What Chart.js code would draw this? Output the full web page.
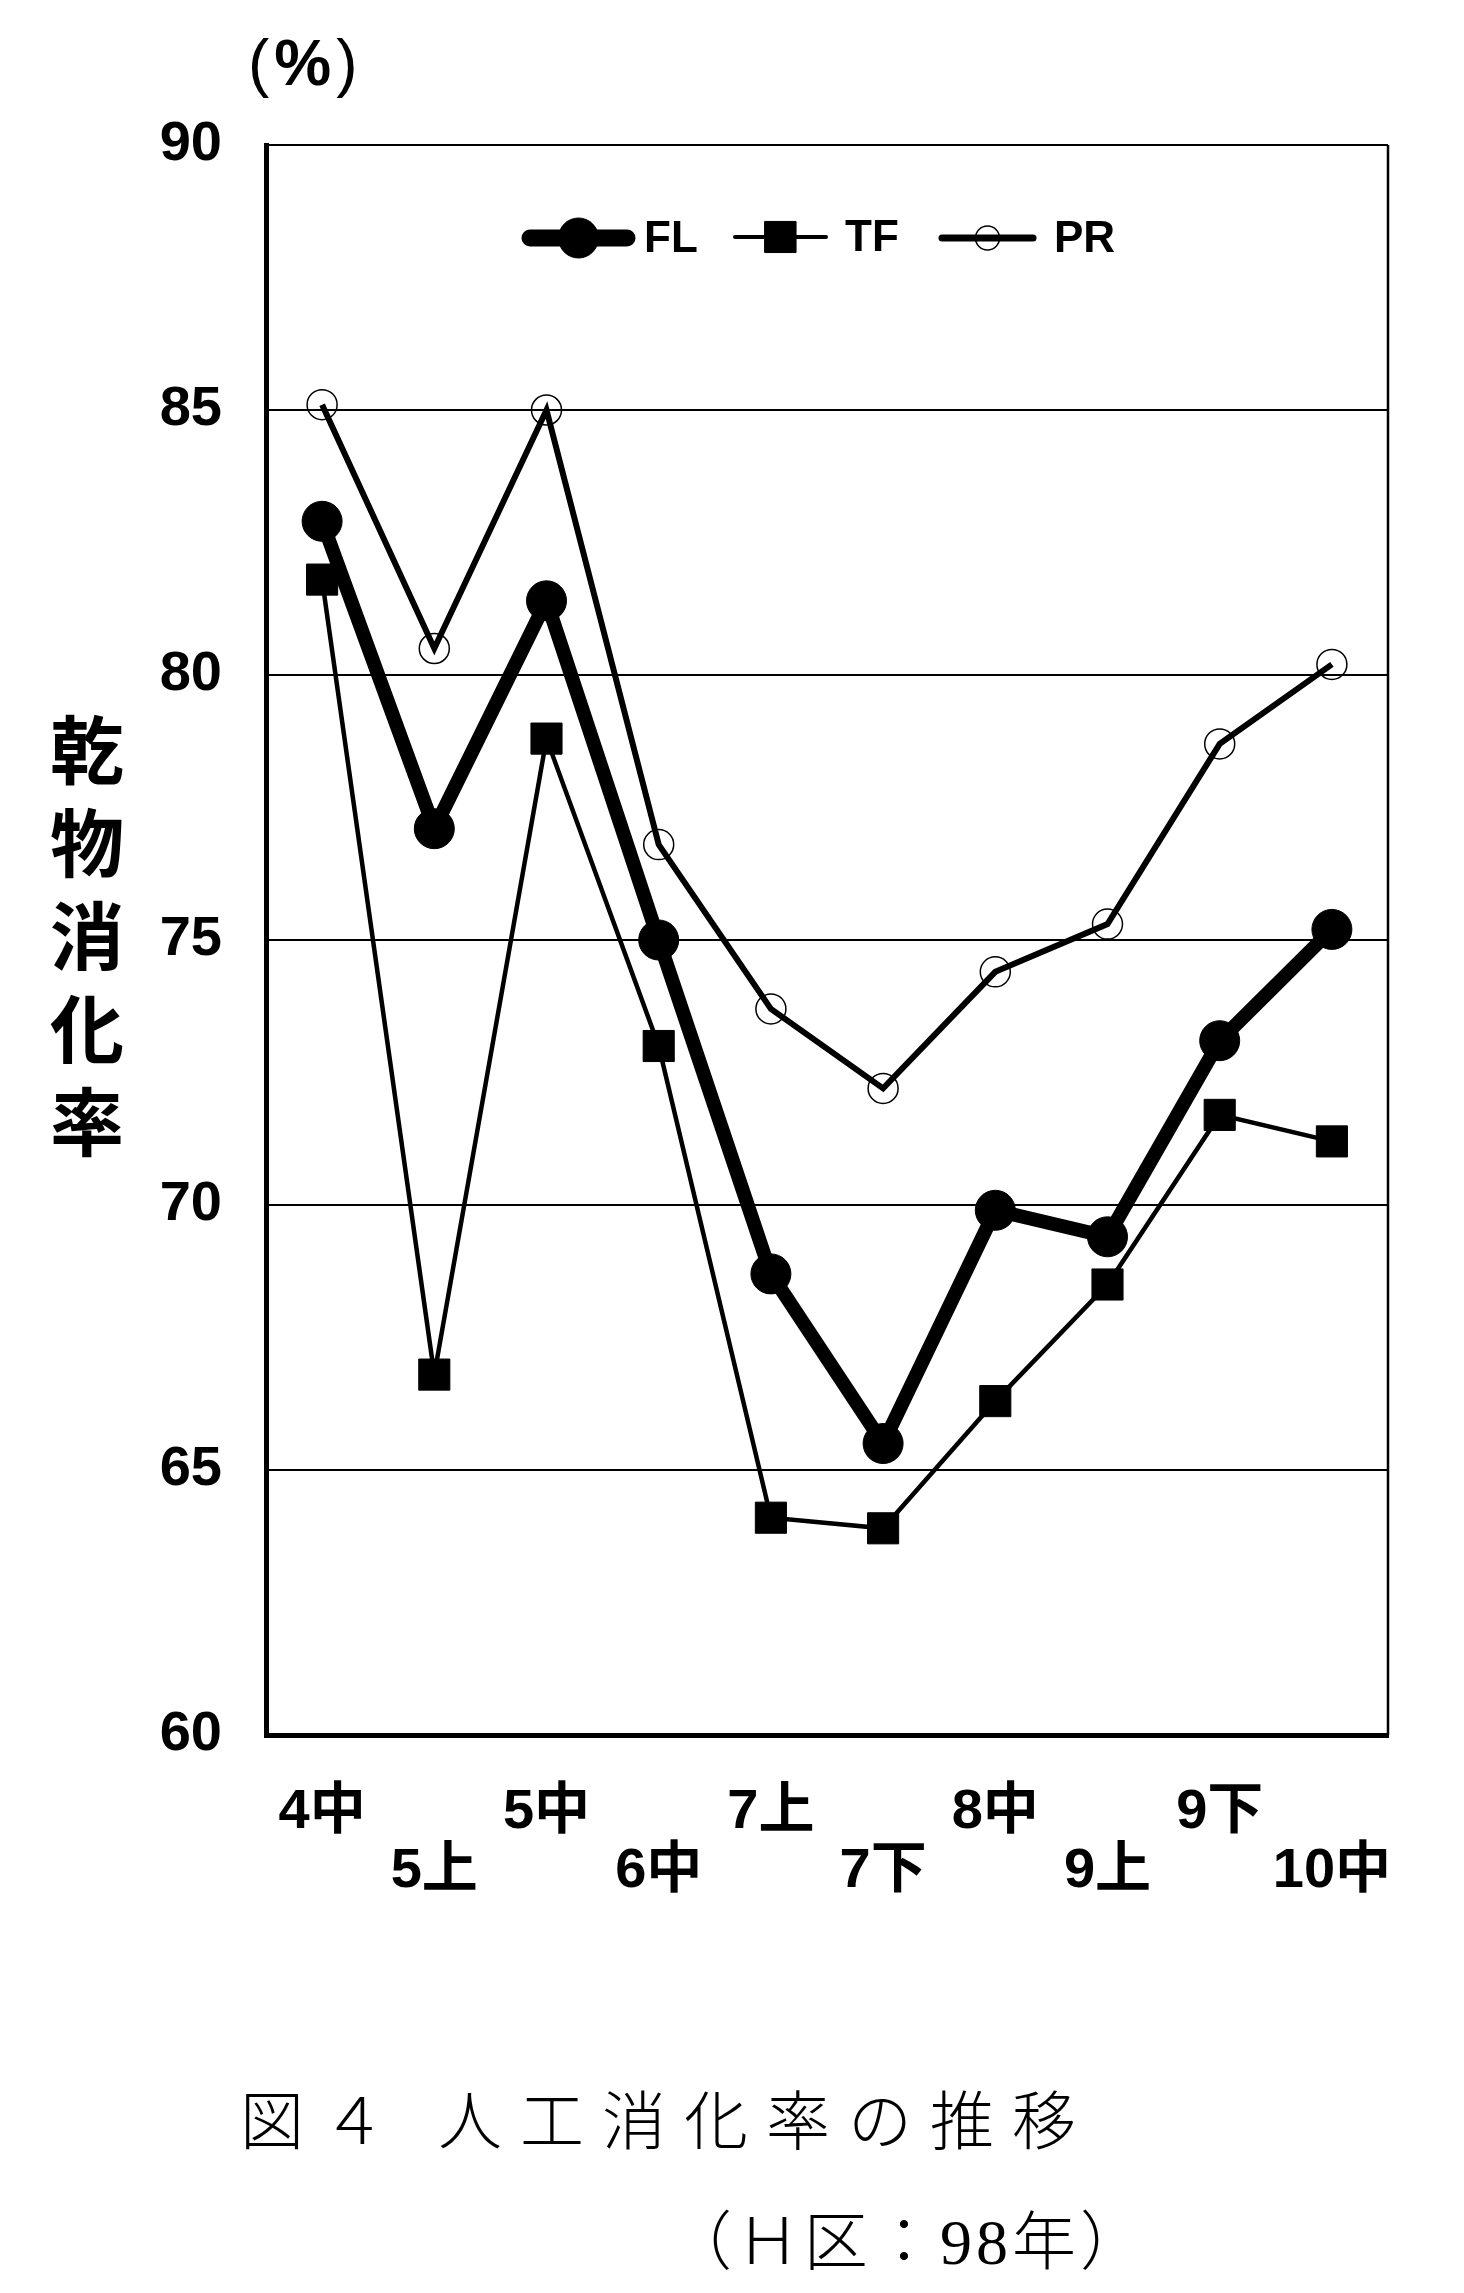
<!DOCTYPE html>
<html>
<head>
<meta charset="utf-8">
<script src="https://cdn.jsdelivr.net/npm/chart.js@4.4.1/dist/chart.umd.min.js"></script>
<style>
    body { margin: 0; background: #fff; }
    .pagina { position: relative; width: 1464px; height: 2293px; background: #fff; overflow: hidden; }
    #grafico { position: absolute; left: 0; top: 0; }
    .unidade { position: absolute; left: 248px; top: 26px; font: 64px "Liberation Sans", sans-serif; color: #000; letter-spacing: 5px; }
    .unidade b { font-weight: bold; }
    .titulo_y { position: absolute; left: 47px; top: 699px; width: 80px; font: bold 74px "Noto Sans CJK JP", sans-serif; line-height: 93px; text-align: center; color: #000; }
    .legenda1 { position: absolute; left: 240px; top: 2070px; font: 300 64px "Liberation Serif", "Noto Sans CJK JP", serif; letter-spacing: 18px; color: #000; white-space: pre; }
    .legenda2 { position: absolute; left: 668px; top: 2190px; font: 300 64px "Liberation Serif", "Noto Sans CJK JP", serif; letter-spacing: 4px; color: #000; white-space: pre; }
</style>
</head>
<body>
<div class="pagina">
    <canvas id="grafico" width="1464" height="1960"></canvas>
    <div class="unidade">(<b>%</b>)</div>
    <div class="titulo_y">乾<br>物<br>消<br>化<br>率</div>
    <div class="legenda1">図４ 人工消化率の推移</div>
    <div class="legenda2">（Ｈ区：98年）</div>
</div>
<script>
const categorias = ['4中', '5上', '5中', '6中', '7上', '7下', '8中', '9上', '9下', '10中'];
const serieFL = [82.9, 77.1, 81.4, 75.0, 68.7, 65.5, 69.9, 69.4, 73.1, 75.2];
const serieTF = [81.8, 66.8, 78.8, 73.0, 64.1, 63.9, 66.3, 68.5, 71.7, 71.2];
const seriePR = [85.1, 80.5, 85.0, 76.8, 73.7, 72.2, 74.4, 75.3, 78.7, 80.2];
const eixoY = { min: 60, max: 90, passo: 5 };

const fonteEixo = '"Liberation Sans Narrow", "Liberation Sans", "Noto Sans CJK JP", sans-serif';
const fonteLegenda = '"Liberation Sans", "Noto Sans CJK JP", sans-serif';

// rotulos alternados em duas linhas, como no original
const rotulosX = categorias.map((c, i) => i % 2 === 0 ? [c, ''] : ['', c]);

const legendaPlugin = {
    id: 'legendaDentro',
    afterDatasetsDraw(chart) {
        const ctx = chart.ctx;
        const itens = [
            { ds: 0, x0: 530, x1: 627, tx: 644, y: 238, lw: 17, r: 20 },
            { ds: 1, x0: 735, x1: 826, tx: 845, y: 237, lw: 4, r: 22 },
            { ds: 2, x0: 942, x1: 1033, tx: 1054, y: 238, lw: 7, r: 12 }
        ];
        ctx.save();
        itens.forEach(item => {
            const ds = chart.data.datasets[item.ds];
            ctx.strokeStyle = '#000';
            ctx.lineWidth = item.lw;
            ctx.lineCap = 'round';
            ctx.beginPath();
            ctx.moveTo(item.x0, item.y);
            ctx.lineTo(item.x1, item.y);
            ctx.stroke();

            const meio = (item.x0 + item.x1) / 2;
            ctx.fillStyle = ds.pointBackgroundColor;
            ctx.strokeStyle = ds.pointBorderColor;
            ctx.lineWidth = ds.pointBorderWidth;
            Chart.helpers.drawPoint(ctx, {
                pointStyle: ds.pointStyle,
                radius: item.r,
                borderWidth: ds.pointBorderWidth
            }, meio, item.y);

            ctx.fillStyle = '#000';
            ctx.font = 'bold 44px ' + fonteLegenda;
            ctx.textBaseline = 'middle';
            ctx.textAlign = 'left';
            ctx.fillText(ds.label, item.tx, item.y + 2);
        });
        ctx.restore();
    }
};

const molduraPlugin = {
    id: 'moldura',
    afterDraw(chart) {
        const a = chart.chartArea;
        const ctx = chart.ctx;
        ctx.save();
        ctx.strokeStyle = '#000';
        ctx.lineWidth = 2.5;
        ctx.beginPath();
        ctx.moveTo(a.right, a.top);
        ctx.lineTo(a.right, a.bottom);
        ctx.stroke();
        ctx.restore();
    }
};

new Chart(document.getElementById('grafico'), {
    type: 'line',
    data: {
        labels: rotulosX,
        datasets: [
            {
                label: 'FL',
                data: serieFL,
                borderColor: '#000',
                borderWidth: 14,
                borderJoinStyle: 'round',
                pointStyle: 'circle',
                pointRadius: 20,
                pointBackgroundColor: '#000',
                pointBorderColor: '#000',
                pointBorderWidth: 1,
                tension: 0
            },
            {
                label: 'TF',
                data: serieTF,
                borderColor: '#000',
                borderWidth: 4.5,
                pointStyle: 'rect',
                pointRadius: 22,
                pointBackgroundColor: '#000',
                pointBorderColor: '#000',
                pointBorderWidth: 1,
                tension: 0
            },
            {
                label: 'PR',
                data: seriePR,
                borderColor: '#000',
                borderWidth: 6,
                pointStyle: 'circle',
                pointRadius: 15,
                pointBackgroundColor: 'rgba(0,0,0,0)',
                pointBorderColor: '#000',
                pointBorderWidth: 1.5,
                tension: 0
            }
        ]
    },
    options: {
        responsive: false,
        animation: false,
        devicePixelRatio: 1,
        layout: { padding: { top: 145, right: 76, left: 0, bottom: 0 } },
        plugins: {
            legend: { display: false },
            tooltip: { enabled: false }
        },
        scales: {
            x: {
                type: 'category',
                offset: true,
                grid: { display: false },
                border: { display: true, color: '#000', width: 5 },
                ticks: {
                    color: '#000',
                    padding: 40,
                    autoSkip: false,
                    maxRotation: 0,
                    font: { family: fonteEixo, size: 56, weight: 'bold', lineHeight: 1.05 }
                },
                afterFit(scale) { scale.height = 225; }
            },
            y: {
                min: eixoY.min,
                max: eixoY.max,
                grid: { color: '#000', lineWidth: 2, drawTicks: false },
                border: { display: true, color: '#000', width: 5 },
                ticks: {
                    stepSize: eixoY.passo,
                    color: '#000',
                    padding: 44,
                    font: { family: fonteEixo, size: 56, weight: 'bold' }
                },
                afterFit(scale) { scale.width = 266; }
            }
        }
    },
    plugins: [legendaPlugin, molduraPlugin]
});
</script>
</body>
</html>
